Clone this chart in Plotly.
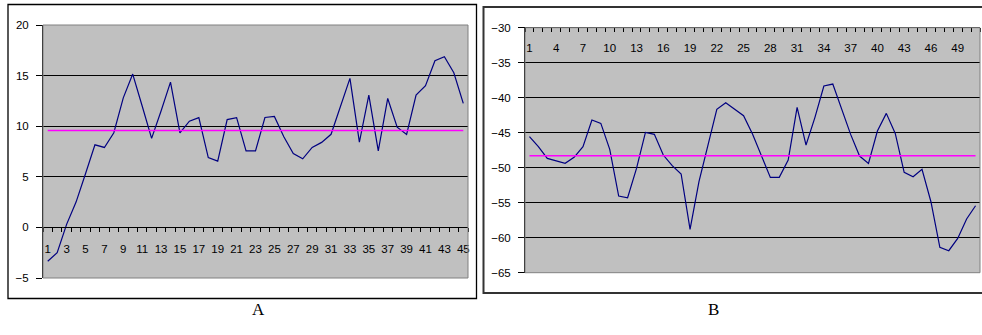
import plotly.graph_objects as go

# ---------------- data ----------------
a_x = list(range(1, 46))
a_vals = [-3.35, -2.5, 0.3, 2.5, 5.3, 8.16, 7.9, 9.35, 12.8, 15.15,
          12.0, 8.8, 11.5, 14.35, 9.35, 10.5, 10.85, 6.9, 6.55, 10.65,
          10.85, 7.57, 7.57, 10.86, 10.96, 8.95, 7.3, 6.78, 7.9, 8.4,
          9.2, 12.0, 14.72, 8.42, 13.07, 7.57, 12.74, 9.9, 9.18, 13.07,
          14.0, 16.47, 16.87, 15.28, 12.25]
a_mean = 9.58
a_tick_labels = [str(i) for i in range(1, 46, 2)]

b_x = list(range(1, 52))
b_vals = [-45.57, -47.0, -48.67, -49.0, -49.38, -48.52, -47.0, -43.19, -43.67, -47.38,
          -54.05, -54.29, -50.1, -44.95, -45.24, -48.19, -49.71, -50.9, -58.81, -52.0,
          -46.86, -41.67, -40.71, -41.7, -42.57, -45.19, -48.43, -51.38, -51.38, -48.9,
          -41.38, -46.76, -42.81, -38.33, -38.05, -41.76, -45.24, -48.33, -49.38, -44.76,
          -42.24, -45.1, -50.67, -51.29, -50.24, -54.86, -61.38, -61.86, -60.1, -57.33,
          -55.43]
b_mean = -48.29
b_tick_labels = [str(i) for i in range(1, 52, 3)]

panel_titles = ["A", "B"]

# ---------------- layout helpers ----------------
W, H = 982, 335
def px(x):
    return x / W
def py(y):
    return (H - y) / H

NAVY = "#000080"
MAG = "#FF00FF"
BG = "#C0C0C0"
FONT = dict(family="Liberation Sans, Arial, sans-serif", size=11.5, color="black")
TITLE_FONT = dict(family="Liberation Serif, Times New Roman, serif", size=17, color="black")

fig = go.Figure()

fig.add_trace(go.Scatter(x=a_x, y=a_vals, mode="lines", line=dict(color=NAVY, width=1.2),
                         xaxis="x", yaxis="y", showlegend=False, hoverinfo="skip"))
fig.add_trace(go.Scatter(x=a_x, y=[a_mean] * len(a_x), mode="lines", line=dict(color=MAG, width=1.5),
                         xaxis="x", yaxis="y", showlegend=False, hoverinfo="skip"))
fig.add_trace(go.Scatter(x=b_x, y=b_vals, mode="lines", line=dict(color=NAVY, width=1.2),
                         xaxis="x2", yaxis="y2", showlegend=False, hoverinfo="skip"))
fig.add_trace(go.Scatter(x=b_x, y=[b_mean] * len(b_x), mode="lines", line=dict(color=MAG, width=1.5),
                         xaxis="x3", yaxis="y2", showlegend=False, hoverinfo="skip"))

# panel A geometry
a_left, a_right, a_top, a_bot = 43, 468, 25, 278
a_ymin, a_ymax = -5, 20
a_zero_y = a_top + (a_ymax - 0) / (a_ymax - a_ymin) * (a_bot - a_top)
# panel B geometry
b_left, b_right, b_top, b_bot = 525, 980, 27.7, 272.7

fig.update_layout(
    width=W, height=H,
    margin=dict(l=0, r=0, t=0, b=0, autoexpand=False),
    paper_bgcolor="white",
    plot_bgcolor=BG,
    font=FONT,
    xaxis=dict(
        domain=[px(a_left), px(a_right)],
        range=[0.5, len(a_x) + 0.5],
        anchor="free", position=py(a_zero_y),
        automargin=False,
        showgrid=False, zeroline=False,
        showline=True, linecolor="black", linewidth=1,
        tickvals=list(range(1, 46, 2)), ticktext=a_tick_labels,
        ticks="", ticklen=0,
        ticklabelstandoff=11,
        minor=dict(tickvals=[i + 0.5 for i in range(0, 46)], ticks="outside",
                   ticklen=4, tickcolor="black", tickwidth=1, showgrid=False),
        tickfont=FONT,
    ),
    yaxis=dict(
        domain=[py(a_bot), py(a_top)],
        range=[a_ymin, a_ymax], dtick=5, tick0=0,
        automargin=False,
        showgrid=True, gridcolor="black", gridwidth=1,
        zeroline=False,
        showline=True, linecolor="black", linewidth=1,
        ticks="outside", ticklen=6, tickcolor="black",
        ticklabelstandoff=5,
        tickfont=FONT,
    ),
    xaxis2=dict(
        domain=[px(b_left), px(b_right)],
        range=[0.5, len(b_x) + 0.5],
        anchor="y2", side="top",
        automargin=False,
        showgrid=False, zeroline=False,
        showline=True, linecolor="black", linewidth=1,
        showticklabels=False,
        ticks="", ticklen=0,
        tickvals=list(range(1, 52, 3)),
        minor=dict(tickvals=[i + 0.5 for i in range(0, 52)], ticks="inside",
                   ticklen=4, tickcolor="black", tickwidth=1, showgrid=False),
    ),
    xaxis3=dict(
        overlaying="x2",
        range=[0.5, len(b_x) + 0.5],
        anchor="free", position=py(b_top), side="bottom",
        automargin=False,
        showgrid=False, zeroline=False, showline=False,
        tickvals=list(range(1, 52, 3)), ticktext=b_tick_labels,
        ticks="", ticklen=0,
        ticklabelstandoff=12,
        tickfont=FONT,
    ),
    yaxis2=dict(
        domain=[py(b_bot), py(b_top)],
        range=[-65, -30], dtick=5, tick0=0,
        anchor="x2",
        automargin=False,
        showgrid=True, gridcolor="black", gridwidth=1,
        zeroline=False,
        showline=True, linecolor="black", linewidth=1,
        ticks="outside", ticklen=6, tickcolor="black",
        ticklabelstandoff=5,
        tickfont=FONT,
    ),
    shapes=[
        # plot area borders (gray)
        dict(type="rect", xref="paper", yref="paper",
             x0=px(a_left), x1=px(a_right), y0=py(a_bot), y1=py(a_top),
             line=dict(color="#808080", width=1), layer="above"),
        dict(type="rect", xref="paper", yref="paper",
             x0=px(b_left), x1=px(b_right), y0=py(b_bot), y1=py(b_top),
             line=dict(color="#808080", width=1), layer="above"),
        # outer chart frames
        dict(type="rect", xref="paper", yref="paper",
             x0=px(8), x1=px(476.5), y0=py(298.5), y1=py(4.5),
             line=dict(color="black", width=1.3), layer="above"),
        dict(type="rect", xref="paper", yref="paper",
             x0=px(483.5), x1=px(984), y0=py(293), y1=py(7),
             line=dict(color="#333333", width=2), layer="above"),
    ],
    annotations=[
        dict(text=panel_titles[0], x=px(250), y=py(321), xref="paper", yref="paper",
             showarrow=False, font=TITLE_FONT),
        dict(text=panel_titles[1], x=px(721), y=py(321), xref="paper", yref="paper",
             showarrow=False, font=TITLE_FONT),
    ],
)

fig.update_xaxes(layer="above traces")

fig.write_html("out.html", config={"displayModeBar": False, "staticPlot": True},
               post_script="document.body.style.margin='0';document.body.style.overflow='hidden';")
